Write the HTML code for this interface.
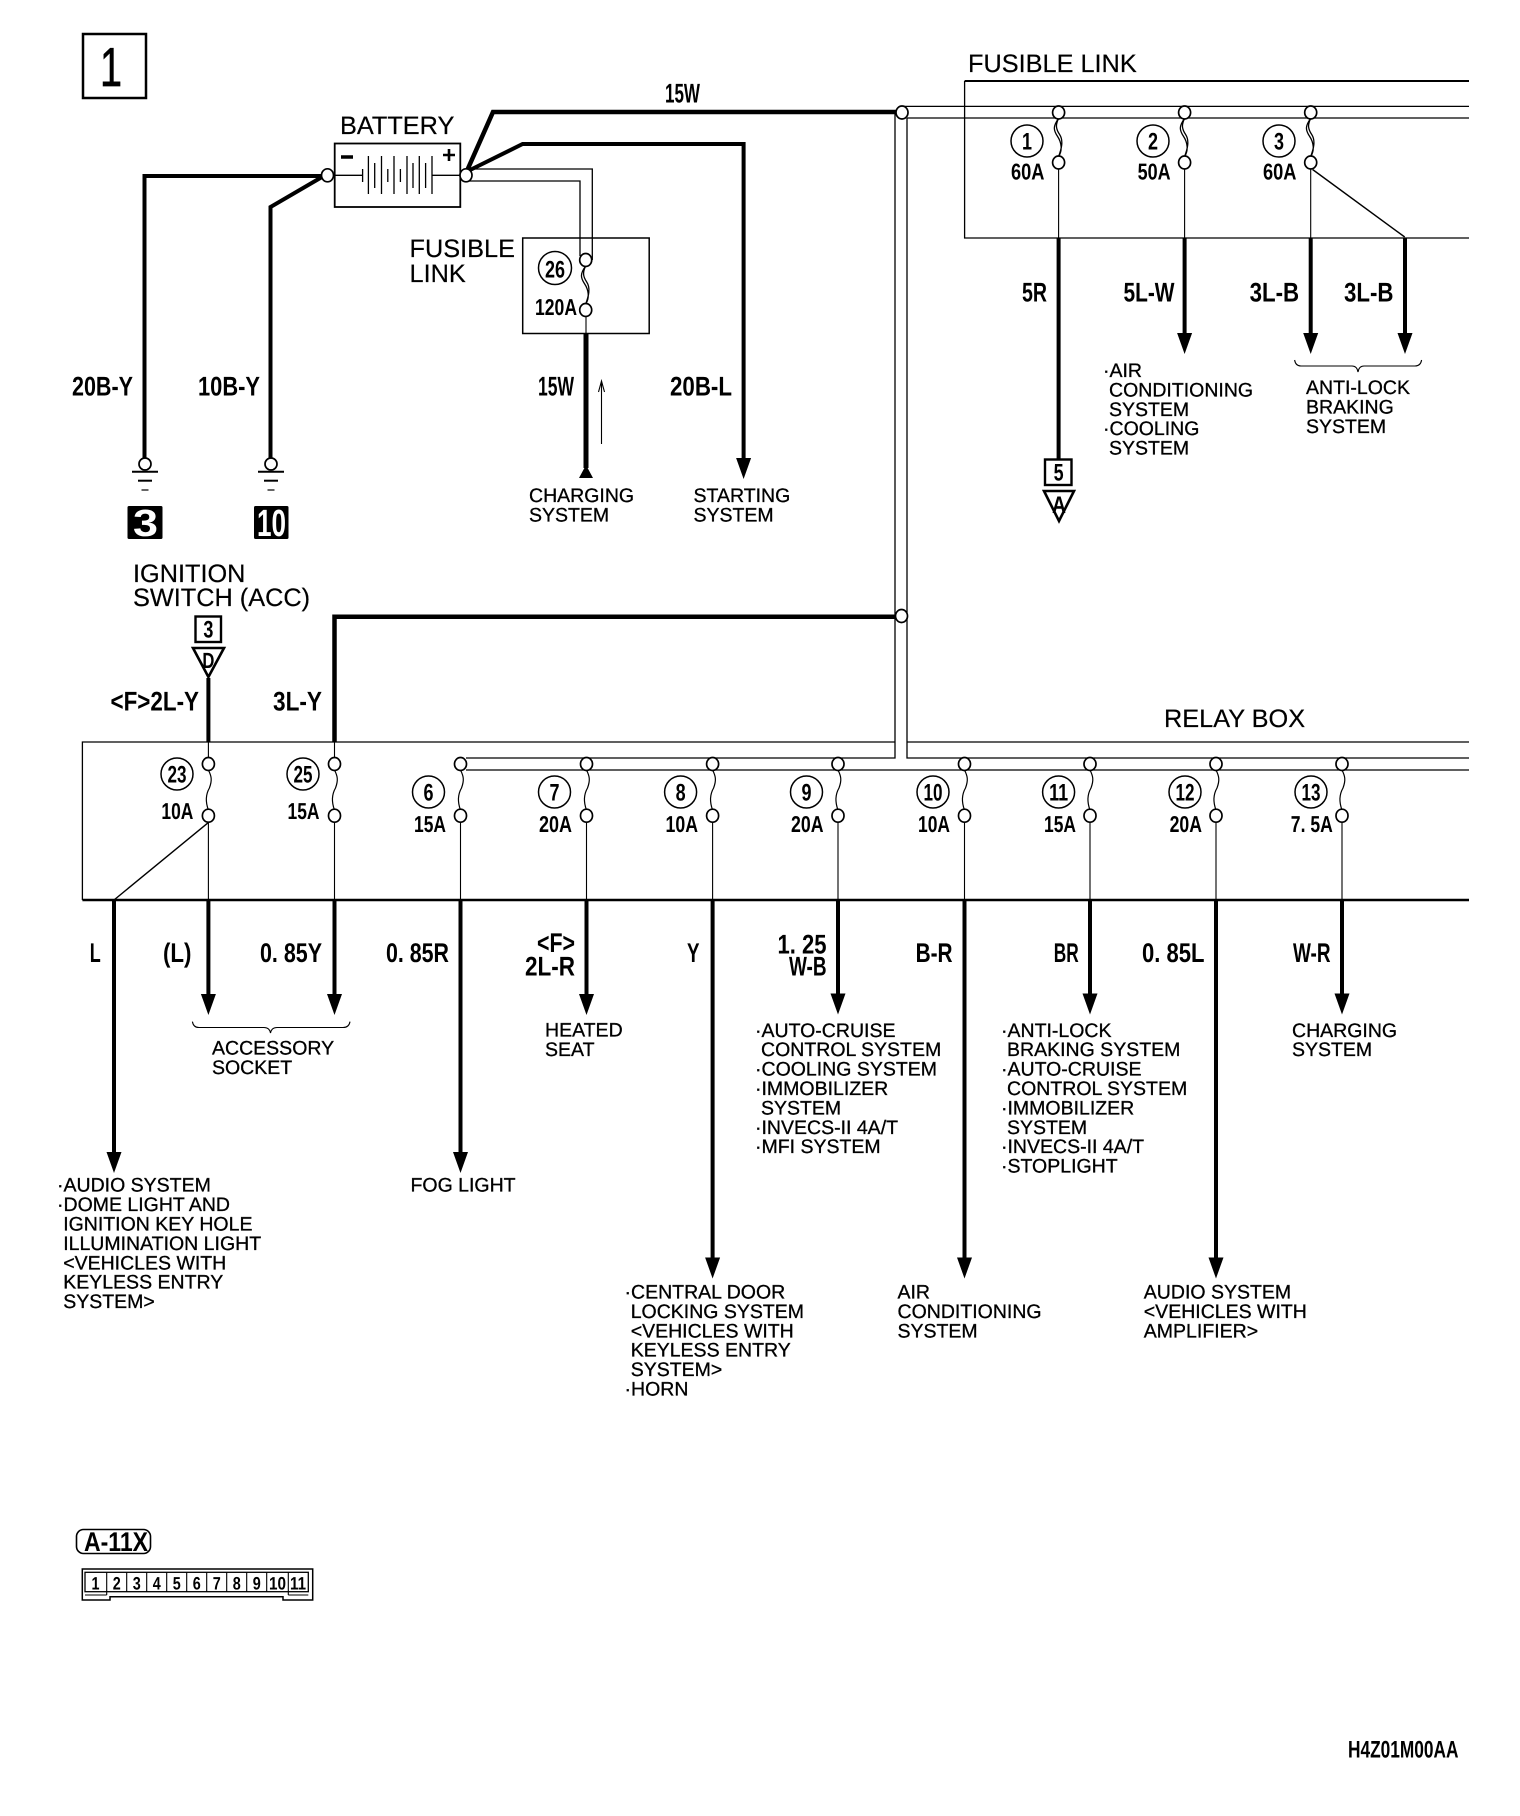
<!DOCTYPE html>
<html><head><meta charset="utf-8"><title>Wiring diagram</title>
<style>
html,body{margin:0;padding:0;background:#fff}
svg{display:block}
text{font-family:"Liberation Sans",sans-serif;fill:#000;text-rendering:geometricPrecision}
.t{font-size:19.5px;stroke:#000;stroke-width:.3}
.h{font-size:25.3px;stroke:#000;stroke-width:.2}
.b{font-size:27px;font-weight:700;transform:translateY(-.5px)}
.a{font-size:23px;font-weight:700;transform:translateY(-1px)}
.n{font-size:24px;font-weight:700;text-anchor:middle}
.c{font-size:18px;font-weight:700;text-anchor:middle}
.l{fill:none;stroke:#000}
.w{fill:none;stroke:#000;stroke-width:4}
.x{fill:none;stroke:#000;stroke-width:1.1}
.r{fill:none;stroke:#000;stroke-width:1.3}
.nd{fill:#fff;stroke:#000;stroke-width:1.7}
.ci{fill:#fff;stroke:#000;stroke-width:1.5}
</style></head><body>
<svg width="1520" height="1816" viewBox="0 0 1520 1816" xmlns="http://www.w3.org/2000/svg">
<defs>
<g id="fd">
<path class="l" stroke-width="1.3" d="M0,6C-6,14-5,18-1,24C3,30 4,38 0,44M0,6C-3,12-3,16 1,22C5,28 3,36 0,44"/>
<ellipse class="nd" cx="0" cy="0" rx="6" ry="6.5"/><ellipse class="nd" cx="0" cy="50" rx="6" ry="6.5"/>
</g>
<g id="fs">
<path class="l" stroke-width="1.2" d="M0,6C3,12 4,16 1,24C-3,31-3,38 0,46"/>
<ellipse class="nd" cx="0" cy="0" rx="6" ry="6.5"/><ellipse class="nd" cx="0" cy="51.7" rx="6" ry="6.5"/>
</g>
<path id="ah" d="M-7.5,0H7.5L0,21Z" fill="#000"/>
<g id="gnd">
<path class="l" stroke-width="2" d="M-13,7.7H13"/><path class="l" stroke-width="2" d="M-7,16.7H7"/><path class="l" stroke-width="1.2" d="M-3.5,26H3.5"/>
<circle class="nd" cx="0" cy="0" r="6"/>
</g>
</defs>

<!-- Title box -->
<rect x="83" y="34" width="63" height="64" class="l" stroke-width="2.5"/>
<text x="100" y="86" style="font-size:55px;stroke:#000;stroke-width:.7" textLength="22" lengthAdjust="spacingAndGlyphs">1</text>

<!-- Upper double bus and verticals -->
<path class="r" d="M895,112V758H466"/>
<path class="r" d="M907,118V758H1469"/>
<path class="r" d="M902,106.4H1469M907,118H1469"/>
<path class="r" d="M466,770H1469"/>

<!-- Battery -->
<text x="340" y="134" class="h">BATTERY</text>
<rect x="334.7" y="143.5" width="125.6" height="63.5" class="l" stroke-width="1.8"/>
<path class="l" stroke-width="1.4" d="M334,175.3H362.5M432,175.3H460"/>
<path class="l" stroke-width="1.3" d="M362.6,169V182M368.4,156V194M374.7,163V188M381.5,156V194M387.8,169V182M394,156V194M400.4,169V182M407,156V194M413,163V188M419.3,156V194M425.6,163V188M432,156V194"/>
<path class="l" stroke-width="3.5" d="M341,157H353"/>
<path class="l" stroke-width="2.6" d="M443,155H455M449,149V161"/>

<!-- Battery wires -->
<path class="w" d="M144.5,459V176H322"/>
<path class="w" d="M270.5,459V207L322,177"/>
<path class="w" style="stroke-width:4.5" d="M466,173L493,112H896"/>
<path class="w" d="M466,172L522.6,144H743.6V458"/>
<use href="#ah" transform="translate(743.6,458)"/>
<path class="r" d="M466,169H592.3V260M466,181H580V256"/>
<ellipse class="nd" cx="327.5" cy="175.3" rx="6" ry="6.5"/>
<ellipse class="nd" cx="466" cy="175.3" rx="6" ry="6.5"/>
<ellipse class="nd" cx="902" cy="112.5" rx="6" ry="6.5"/>

<!-- Grounds -->
<use href="#gnd" transform="translate(145,464)"/>
<use href="#gnd" transform="translate(271,464)"/>
<rect x="127.5" y="506" width="35" height="33" rx="1.5" fill="#000"/>
<rect x="254" y="506" width="34.5" height="33" rx="1.5" fill="#000"/>
<text x="133" y="536" style="font-size:38px;font-weight:700;fill:#fff" textLength="25" lengthAdjust="spacingAndGlyphs">3</text>
<text x="257" y="536" style="font-size:38px;font-weight:700;fill:#fff" textLength="29" lengthAdjust="spacingAndGlyphs">10</text>

<text x="72" y="396" class="b" textLength="61" lengthAdjust="spacingAndGlyphs">20B-Y</text>
<text x="198" y="396" class="b" textLength="62" lengthAdjust="spacingAndGlyphs">10B-Y</text>
<text x="665" y="103" class="b" textLength="35" lengthAdjust="spacingAndGlyphs">15W</text>
<text x="538" y="396" class="b" textLength="36" lengthAdjust="spacingAndGlyphs">15W</text>
<text x="670" y="396" class="b" textLength="62" lengthAdjust="spacingAndGlyphs">20B-L</text>

<!-- Fusible link 26 -->
<text x="409.5" y="257" class="h">FUSIBLE</text>
<text x="409.5" y="282" class="h">LINK</text>
<rect x="522.7" y="238" width="126.5" height="95.5" class="l" stroke-width="1.5"/>
<path class="x" d="M586,316V334"/>
<use href="#fd" transform="translate(585.7,260)"/>
<circle class="ci" cx="555" cy="268" r="16.5"/>
<text x="555" y="277.5" class="n" textLength="20" lengthAdjust="spacingAndGlyphs">26</text>
<text x="535" y="316" class="a" textLength="42" lengthAdjust="spacingAndGlyphs">120A</text>
<path class="w" style="stroke-width:5" d="M586,334V468"/>
<path d="M586,465L593,478H579Z" fill="#000"/>
<path class="x" d="M601.5,381V444M598.5,392L601.5,381L604.5,392"/>
<text x="529" y="502" class="t">CHARGING</text>
<text x="529" y="521.5" class="t">SYSTEM</text>
<text x="693.5" y="502" class="t">STARTING</text>
<text x="693.5" y="521.5" class="t">SYSTEM</text>

<!-- Upper fusible link box -->
<text x="968" y="72" class="h">FUSIBLE LINK</text>
<path class="l" stroke-width="2" d="M964.6,81H1469"/>
<path class="r" d="M964.6,81V238H1469"/>
<path class="x" d="M1058.6,168V238M1184.6,168V238M1310.7,168V238"/>
<path class="l" stroke-width="1.4" d="M1312.6,169.5L1404.7,237"/>
<use href="#fd" transform="translate(1058.6,112.5)"/>
<use href="#fd" transform="translate(1184.6,112.5)"/>
<use href="#fd" transform="translate(1310.7,112.5)"/>
<circle class="ci" cx="1027" cy="141" r="16"/><circle class="ci" cx="1153" cy="141" r="16"/><circle class="ci" cx="1279" cy="141" r="16"/>
<text x="1027" y="149.5" class="n" textLength="10" lengthAdjust="spacingAndGlyphs">1</text>
<text x="1153" y="149.5" class="n" textLength="10" lengthAdjust="spacingAndGlyphs">2</text>
<text x="1279" y="149.5" class="n" textLength="10" lengthAdjust="spacingAndGlyphs">3</text>
<text x="1011" y="180.6" class="a" textLength="33.5" lengthAdjust="spacingAndGlyphs">60A</text>
<text x="1137.6" y="180.6" class="a" textLength="33" lengthAdjust="spacingAndGlyphs">50A</text>
<text x="1263" y="180.6" class="a" textLength="33.5" lengthAdjust="spacingAndGlyphs">60A</text>
<path class="w" d="M1058.6,238V459M1184.6,238V333M1310.7,238V333M1405,238V333"/>
<use href="#ah" transform="translate(1184.6,333)"/><use href="#ah" transform="translate(1310.7,333)"/><use href="#ah" transform="translate(1405,333)"/>
<text x="1022" y="302" class="b" textLength="25" lengthAdjust="spacingAndGlyphs">5R</text>
<text x="1123.5" y="302" class="b" textLength="51" lengthAdjust="spacingAndGlyphs">5L-W</text>
<text x="1249.6" y="302" class="b" textLength="49.5" lengthAdjust="spacingAndGlyphs">3L-B</text>
<text x="1344" y="302" class="b" textLength="49.5" lengthAdjust="spacingAndGlyphs">3L-B</text>
<rect x="1045" y="459.5" width="26.5" height="25.5" class="l" stroke-width="2.4"/>
<text x="1058.6" y="480.5" class="n" textLength="10" lengthAdjust="spacingAndGlyphs">5</text>
<path class="l" stroke-width="2.6" d="M1044,491H1074L1059,521Z"/>
<text x="1059" y="513" style="font-size:24px;font-weight:700;text-anchor:middle" textLength="14" lengthAdjust="spacingAndGlyphs">A</text>
<text x="1103" y="377" class="t">·AIR</text>
<text x="1109" y="396.4" class="t">CONDITIONING</text>
<text x="1109" y="415.8" class="t">SYSTEM</text>
<text x="1103" y="435.2" class="t">·COOLING</text>
<text x="1109" y="454.6" class="t">SYSTEM</text>
<path class="x" d="M1294.6,360Q1295.6,366 1301,366H1352Q1357,366 1358,372Q1359,366 1364,366H1415Q1420.6,366 1421.6,360"/>
<text x="1306" y="394" class="t">ANTI-LOCK</text>
<text x="1306" y="413.4" class="t">BRAKING</text>
<text x="1306" y="432.8" class="t">SYSTEM</text>

<!-- Ignition -->
<text x="133" y="582" class="h">IGNITION</text>
<text x="133" y="606" class="h">SWITCH (ACC)</text>
<rect x="195.5" y="616.5" width="25.5" height="25.5" class="l" stroke-width="2.4"/>
<text x="208.4" y="637.5" class="n" textLength="10" lengthAdjust="spacingAndGlyphs">3</text>
<path class="l" stroke-width="2.6" d="M193,648H224L208.4,677Z"/>
<text x="208.4" y="668" style="font-size:22px;font-weight:700;text-anchor:middle" textLength="12" lengthAdjust="spacingAndGlyphs">D</text>
<path class="w" d="M208.4,678V742"/>
<path class="w" style="stroke-width:4.5" d="M334.5,742V616.7H896"/>
<ellipse class="nd" cx="901.5" cy="616" rx="6" ry="6.5"/>
<text x="110.5" y="711" class="b" textLength="88.5" lengthAdjust="spacingAndGlyphs">&lt;F&gt;2L-Y</text>
<text x="273" y="711" class="b" textLength="49" lengthAdjust="spacingAndGlyphs">3L-Y</text>

<!-- Relay box -->
<text x="1164" y="727" class="h">RELAY BOX</text>
<path class="r" d="M895,742H82.4V900M907,742H1469"/>
<path class="l" stroke-width="2.5" d="M82.4,900H1469"/>
<path class="x" d="M208.4,742V764M334.5,742V764"/>
<path class="x" d="M208.4,821V900M334.5,821V900M460.5,821V900M586.5,821V900M712.6,821V900M838,821V900M964.5,821V900M1090,821V900M1216,821V900M1342,821V900"/>
<path class="l" stroke-width="1.4" d="M209.4,821.7L114,900"/>
<use href="#fs" transform="translate(208.4,764)"/>
<use href="#fs" transform="translate(334.5,764)"/>
<use href="#fs" transform="translate(460.5,764)"/>
<use href="#fs" transform="translate(586.5,764)"/>
<use href="#fs" transform="translate(712.6,764)"/>
<use href="#fs" transform="translate(838,764)"/>
<use href="#fs" transform="translate(964.5,764)"/>
<use href="#fs" transform="translate(1090,764)"/>
<use href="#fs" transform="translate(1216,764)"/>
<use href="#fs" transform="translate(1342,764)"/>
<circle class="ci" cx="177" cy="774" r="16"/><circle class="ci" cx="303" cy="774" r="16"/>
<circle class="ci" cx="428.5" cy="792" r="16"/><circle class="ci" cx="554.5" cy="792" r="16"/><circle class="ci" cx="680.6" cy="792" r="16"/><circle class="ci" cx="806.5" cy="792" r="16"/><circle class="ci" cx="933" cy="792" r="16"/><circle class="ci" cx="1058.6" cy="792" r="16"/><circle class="ci" cx="1185" cy="792" r="16"/><circle class="ci" cx="1311" cy="792" r="16"/>
<text x="177" y="782.7" class="n" textLength="19" lengthAdjust="spacingAndGlyphs">23</text>
<text x="303" y="782.7" class="n" textLength="19" lengthAdjust="spacingAndGlyphs">25</text>
<text x="428.5" y="800.5" class="n" textLength="10" lengthAdjust="spacingAndGlyphs">6</text>
<text x="554.5" y="800.5" class="n" textLength="10" lengthAdjust="spacingAndGlyphs">7</text>
<text x="680.6" y="800.5" class="n" textLength="10" lengthAdjust="spacingAndGlyphs">8</text>
<text x="806.5" y="800.5" class="n" textLength="10" lengthAdjust="spacingAndGlyphs">9</text>
<text x="933" y="800.5" class="n" textLength="19" lengthAdjust="spacingAndGlyphs">10</text>
<text x="1058.6" y="800.5" class="n" textLength="19" lengthAdjust="spacingAndGlyphs">11</text>
<text x="1185" y="800.5" class="n" textLength="19" lengthAdjust="spacingAndGlyphs">12</text>
<text x="1311" y="800.5" class="n" textLength="19" lengthAdjust="spacingAndGlyphs">13</text>
<text x="161.4" y="820" class="a" textLength="32" lengthAdjust="spacingAndGlyphs">10A</text>
<text x="287.5" y="820" class="a" textLength="32" lengthAdjust="spacingAndGlyphs">15A</text>
<text x="414" y="833" class="a" textLength="32" lengthAdjust="spacingAndGlyphs">15A</text>
<text x="539" y="833" class="a" textLength="33" lengthAdjust="spacingAndGlyphs">20A</text>
<text x="665.5" y="833" class="a" textLength="32.5" lengthAdjust="spacingAndGlyphs">10A</text>
<text x="791" y="833" class="a" textLength="32.5" lengthAdjust="spacingAndGlyphs">20A</text>
<text x="918" y="833" class="a" textLength="32" lengthAdjust="spacingAndGlyphs">10A</text>
<text x="1044" y="833" class="a" textLength="32" lengthAdjust="spacingAndGlyphs">15A</text>
<text x="1169.6" y="833" class="a" textLength="32.4" lengthAdjust="spacingAndGlyphs">20A</text>
<text x="1290.8" y="833" class="a" textLength="42" lengthAdjust="spacingAndGlyphs">7. 5A</text>

<!-- Output wires -->
<path class="w" d="M114,900V1153M208.4,900V995M334.5,900V995M460.5,900V1153M586.5,900V995M712.6,900V1258M838,900V995M964.5,900V1258M1090,900V995M1216,900V1258M1342,900V995"/>
<use href="#ah" transform="translate(114,1152)"/><use href="#ah" transform="translate(208.4,994)"/><use href="#ah" transform="translate(334.5,994)"/><use href="#ah" transform="translate(460.5,1152)"/><use href="#ah" transform="translate(586.5,994)"/><use href="#ah" transform="translate(712.6,1257.5)"/><use href="#ah" transform="translate(838,993.5)"/><use href="#ah" transform="translate(964.5,1257.5)"/><use href="#ah" transform="translate(1090,993.5)"/><use href="#ah" transform="translate(1216,1257.5)"/><use href="#ah" transform="translate(1342,993.5)"/>

<text x="89.7" y="962.7" class="b" textLength="11" lengthAdjust="spacingAndGlyphs">L</text>
<text x="163" y="962.7" class="b" textLength="28.5" lengthAdjust="spacingAndGlyphs">(L)</text>
<text x="260" y="962.7" class="b" textLength="62" lengthAdjust="spacingAndGlyphs">0. 85Y</text>
<text x="386" y="962.7" class="b" textLength="63" lengthAdjust="spacingAndGlyphs">0. 85R</text>
<text x="537" y="952.7" class="b" textLength="38" lengthAdjust="spacingAndGlyphs">&lt;F&gt;</text>
<text x="525" y="976" class="b" textLength="50" lengthAdjust="spacingAndGlyphs">2L-R</text>
<text x="687" y="962.7" class="b" textLength="12.5" lengthAdjust="spacingAndGlyphs">Y</text>
<text x="777.5" y="954" class="b" textLength="49" lengthAdjust="spacingAndGlyphs">1. 25</text>
<text x="789" y="976" class="b" textLength="37.5" lengthAdjust="spacingAndGlyphs">W-B</text>
<text x="915.6" y="962.7" class="b" textLength="37" lengthAdjust="spacingAndGlyphs">B-R</text>
<text x="1053.7" y="962.7" class="b" textLength="25" lengthAdjust="spacingAndGlyphs">BR</text>
<text x="1142" y="962.7" class="b" textLength="62.5" lengthAdjust="spacingAndGlyphs">0. 85L</text>
<text x="1293" y="962.7" class="b" textLength="37.5" lengthAdjust="spacingAndGlyphs">W-R</text>

<path class="x" d="M192.4,1021.6Q193.4,1027.5 199,1027.5H264Q269.5,1027.5 270.5,1033Q271.5,1027.5 277,1027.5H343Q349,1027.5 350,1021.6"/>
<text x="212" y="1054.5" class="t">ACCESSORY</text>
<text x="212" y="1073.9" class="t">SOCKET</text>
<text x="545" y="1036.7" class="t">HEATED</text>
<text x="545" y="1056" class="t">SEAT</text>

<text x="755" y="1036.8" class="t">·AUTO-CRUISE</text>
<text x="761" y="1056.2" class="t">CONTROL SYSTEM</text>
<text x="755" y="1075.6" class="t">·COOLING SYSTEM</text>
<text x="755" y="1095" class="t">·IMMOBILIZER</text>
<text x="761" y="1114.4" class="t">SYSTEM</text>
<text x="755" y="1133.8" class="t">·INVECS-II 4A/T</text>
<text x="755" y="1153.2" class="t">·MFI SYSTEM</text>

<text x="1001" y="1036.8" class="t">·ANTI-LOCK</text>
<text x="1007" y="1056.2" class="t">BRAKING SYSTEM</text>
<text x="1001" y="1075.6" class="t">·AUTO-CRUISE</text>
<text x="1007" y="1095" class="t">CONTROL SYSTEM</text>
<text x="1001" y="1114.4" class="t">·IMMOBILIZER</text>
<text x="1007" y="1133.8" class="t">SYSTEM</text>
<text x="1001" y="1153.2" class="t">·INVECS-II 4A/T</text>
<text x="1001" y="1172.6" class="t">·STOPLIGHT</text>

<text x="1292" y="1036.8" class="t">CHARGING</text>
<text x="1292" y="1056.2" class="t">SYSTEM</text>

<text x="57" y="1191.7" class="t">·AUDIO SYSTEM</text>
<text x="57" y="1211.1" class="t">·DOME LIGHT AND</text>
<text x="63.2" y="1230.5" class="t">IGNITION KEY HOLE</text>
<text x="63.2" y="1249.9" class="t">ILLUMINATION LIGHT</text>
<text x="63.2" y="1269.3" class="t">&lt;VEHICLES WITH</text>
<text x="63.2" y="1288.7" class="t">KEYLESS ENTRY</text>
<text x="63.2" y="1308.1" class="t">SYSTEM&gt;</text>

<text x="410.5" y="1191.7" class="t">FOG LIGHT</text>

<text x="624.5" y="1298.5" class="t">·CENTRAL DOOR</text>
<text x="630.7" y="1317.9" class="t">LOCKING SYSTEM</text>
<text x="630.7" y="1337.3" class="t">&lt;VEHICLES WITH</text>
<text x="630.7" y="1356.7" class="t">KEYLESS ENTRY</text>
<text x="630.7" y="1376.1" class="t">SYSTEM&gt;</text>
<text x="624.5" y="1395.5" class="t">·HORN</text>

<text x="897.5" y="1298.5" class="t">AIR</text>
<text x="897.5" y="1317.9" class="t">CONDITIONING</text>
<text x="897.5" y="1337.3" class="t">SYSTEM</text>

<text x="1143.8" y="1298.5" class="t">AUDIO SYSTEM</text>
<text x="1143.8" y="1317.9" class="t">&lt;VEHICLES WITH</text>
<text x="1143.8" y="1337.3" class="t">AMPLIFIER&gt;</text>

<!-- Connector -->
<rect x="76.5" y="1529.5" width="74" height="24" rx="7" class="l" stroke-width="1.6"/>
<text x="84" y="1551.5" class="b" textLength="64" lengthAdjust="spacingAndGlyphs">A-11X</text>
<path class="l" stroke-width="1.5" d="M82.3,1600V1569H312.7V1600H283V1596.7H110V1600Z"/>
<rect x="85" y="1572.3" width="223.3" height="19.4" class="l" stroke-width="1.3"/>
<path class="x" d="M106.7,1572.3V1595M126.7,1572.3V1591.7M146.7,1572.3V1591.7M166.7,1572.3V1591.7M186.7,1572.3V1591.7M206.7,1572.3V1591.7M226.7,1572.3V1591.7M246.7,1572.3V1591.7M266.7,1572.3V1591.7M288.3,1572.3V1595M85,1595H106.7M288.3,1595H308.3"/>
<text x="95.5" y="1589.3" class="c" textLength="8" lengthAdjust="spacingAndGlyphs">1</text>
<text x="116.7" y="1589.3" class="c" textLength="8" lengthAdjust="spacingAndGlyphs">2</text>
<text x="136.7" y="1589.3" class="c" textLength="8" lengthAdjust="spacingAndGlyphs">3</text>
<text x="156.7" y="1589.3" class="c" textLength="8" lengthAdjust="spacingAndGlyphs">4</text>
<text x="176.7" y="1589.3" class="c" textLength="8" lengthAdjust="spacingAndGlyphs">5</text>
<text x="196.7" y="1589.3" class="c" textLength="8" lengthAdjust="spacingAndGlyphs">6</text>
<text x="216.7" y="1589.3" class="c" textLength="8" lengthAdjust="spacingAndGlyphs">7</text>
<text x="236.7" y="1589.3" class="c" textLength="8" lengthAdjust="spacingAndGlyphs">8</text>
<text x="256.7" y="1589.3" class="c" textLength="8" lengthAdjust="spacingAndGlyphs">9</text>
<text x="277.5" y="1589.3" class="c" textLength="17" lengthAdjust="spacingAndGlyphs">10</text>
<text x="298" y="1589.3" class="c" textLength="16" lengthAdjust="spacingAndGlyphs">11</text>

<text x="1348" y="1757.5" style="font-size:24px;font-weight:700" textLength="110.5" lengthAdjust="spacingAndGlyphs">H4Z01M00AA</text>
</svg>
</body></html>
